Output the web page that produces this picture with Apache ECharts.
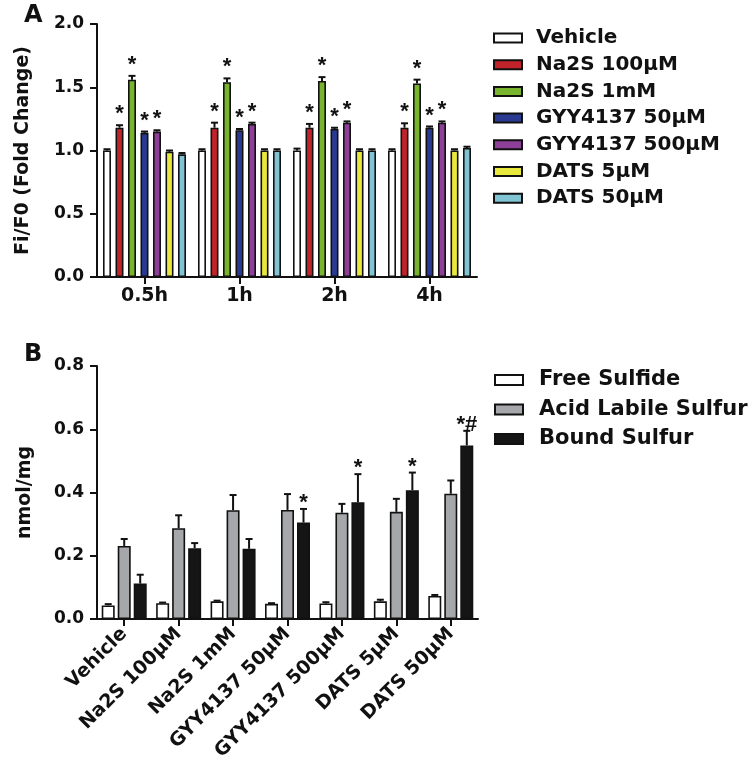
<!DOCTYPE html>
<html>
<head>
<meta charset="utf-8">
<script src="https://cdn.jsdelivr.net/npm/echarts@6/dist/echarts.min.js"></script>
<style>
html,body{margin:0;padding:0;background:#fff;}
#chart{width:750px;height:779px;}
</style>
</head>
<body>
<div id="chart"></div>
<script>
// ---------- Panel A data ----------
const categoriesA = ['0.5h', '1h', '2h', '4h'];
const namesA = ['Vehicle', 'Na2S 100µM', 'Na2S 1mM', 'GYY4137 50µM', 'GYY4137 500µM', 'DATS 5µM', 'DATS 50µM'];
const vehicleA   = [1.00, 1.00, 1.00, 1.00];
const na2s100A   = [1.18, 1.18, 1.18, 1.18];
const na2s1mA    = [1.56, 1.54, 1.55, 1.53];
const gyy50A     = [1.14, 1.16, 1.17, 1.18];
const gyy500A    = [1.15, 1.21, 1.22, 1.22];
const dats5A     = [0.99, 1.00, 1.00, 1.00];
const dats50A    = [0.97, 1.00, 1.00, 1.02];
const vehicleErrA = [0.01, 0.01, 0.015, 0.01];
const na2s100ErrA = [0.02, 0.04, 0.03, 0.035];
const na2s1mErrA  = [0.03, 0.03, 0.03, 0.03];
const gyy50ErrA   = [0.01, 0.01, 0.01, 0.01];
const gyy500ErrA  = [0.01, 0.01, 0.01, 0.01];
const dats5ErrA   = [0.01, 0.01, 0.01, 0.01];
const dats50ErrA  = [0.01, 0.01, 0.01, 0.01];
const vehicleStarA = ['', '', '', ''];
const na2s100StarA = ['*', '*', '*', '*'];
const na2s1mStarA  = ['*', '*', '*', '*'];
const gyy50StarA   = ['*', '*', '*', '*'];
const gyy500StarA  = ['*', '*', '*', '*'];
const dats5StarA   = ['', '', '', ''];
const dats50StarA  = ['', '', '', ''];
const yTicksA = [0, 0.5, 1.0, 1.5, 2.0];

// ---------- Panel B data ----------
const categoriesB = ['Vehicle', 'Na2S 100µM', 'Na2S 1mM', 'GYY4137 50µM', 'GYY4137 500µM', 'DATS 5µM', 'DATS 50µM'];
const namesB = ['Free Sulfide', 'Acid Labile Sulfur', 'Bound Sulfur'];
const freeB  = [0.043, 0.050, 0.056, 0.048, 0.049, 0.056, 0.073];
const acidB  = [0.231, 0.287, 0.344, 0.345, 0.336, 0.339, 0.396];
const boundB = [0.112, 0.224, 0.222, 0.305, 0.369, 0.407, 0.549];
const freeErrB  = [0.004, 0.002, 0.002, 0.002, 0.004, 0.005, 0.003];
const acidErrB  = [0.022, 0.041, 0.048, 0.050, 0.028, 0.041, 0.042];
const boundErrB = [0.028, 0.016, 0.031, 0.043, 0.089, 0.056, 0.046];
const freeStarB  = ['', '', '', '', '', '', ''];
const acidStarB  = ['', '', '', '', '', '', ''];
const boundStarB = ['', '', '', '*', '*', '*', '*#'];
const yTicksB = [0, 0.2, 0.4, 0.6, 0.8];

// ---------- styles ----------
const FONT = 'DejaVu Sans';
const colorsA = ['#ffffff', '#c1232b', '#78b42e', '#2a3a92', '#8e3f97', '#e9e83c', '#80c3d3'];
const colorsB = ['#ffffff', '#a6a7ab', '#151515'];
const valsA = [vehicleA, na2s100A, na2s1mA, gyy50A, gyy500A, dats5A, dats50A];
const errsA = [vehicleErrA, na2s100ErrA, na2s1mErrA, gyy50ErrA, gyy500ErrA, dats5ErrA, dats50ErrA];
const starsA = [vehicleStarA, na2s100StarA, na2s1mStarA, gyy50StarA, gyy500StarA, dats5StarA, dats50StarA];
const valsB = [freeB, acidB, boundB];
const errsB = [freeErrB, acidErrB, boundErrB];
const starsB = [freeStarB, acidStarB, boundStarB];

const BW_A = 8, GAP_A = 4.5;
const BW_B = 13, GAP_B = 3;

function barSeries(name, vals, color, axis, bw, gap) {
  return {
    type: 'bar', name: name, data: vals,
    xAxisIndex: axis, yAxisIndex: axis,
    barWidth: bw, barGap: (gap / bw * 100) + '%',
    itemStyle: { color: color, borderColor: '#111', borderWidth: 1.6 },
    z: 3
  };
}
function errSeries(name, vals, errs, stars, idx, n, pitch, capHalf, axis, starGap) {
  return {
    type: 'custom', name: name + ' err',
    xAxisIndex: axis, yAxisIndex: axis,
    data: vals.map((v, i) => [i, v, errs[i]]),
    encode: { x: 0, y: 1 },
    z: 2, clip: false, silent: true,
    renderItem: function (params, api) {
      const c = api.value(0), v = api.value(1), e = api.value(2);
      const base = api.coord([c, v]);
      const top = api.coord([c, v + e]);
      const x = base[0] + (idx - (n - 1) / 2) * pitch;
      const children = [
        { type: 'line', shape: { x1: x, y1: base[1], x2: x, y2: top[1] }, style: { stroke: '#111', lineWidth: 2 } },
        { type: 'line', shape: { x1: x - capHalf, y1: top[1], x2: x + capHalf, y2: top[1] }, style: { stroke: '#111', lineWidth: 2 } }
      ];
      const s = stars[params.dataIndex];
      if (s) {
        children.push({
          type: 'text', x: x, y: top[1] - starGap,
          style: { text: s, fill: '#111', font: 'bold 22px "Liberation Sans"', align: 'center', verticalAlign: 'middle' }
        });
      }
      return { type: 'group', children: children };
    }
  };
}

const series = [];
namesA.forEach((nm, i) => series.push(barSeries(nm, valsA[i], colorsA[i], 0, BW_A, GAP_A)));
namesB.forEach((nm, i) => series.push(barSeries(nm, valsB[i], colorsB[i], 1, BW_B, GAP_B)));
namesA.forEach((nm, i) => series.push(errSeries(nm, valsA[i], errsA[i], starsA[i], i, namesA.length, BW_A + GAP_A, 3.5, 0, 11)));
namesB.forEach((nm, i) => series.push(errSeries(nm, valsB[i], errsB[i], starsB[i], i, namesB.length, BW_B + GAP_B, 3.5, 1, 6)));

const axisLineStyle = { show: true, lineStyle: { color: '#111', width: 2 } };
const axisTickStyle = { show: true, length: 7, lineStyle: { color: '#111', width: 2 } };

function yAxisDef(idx, ticks, name, gap) {
  return {
    type: 'value', gridIndex: idx,
    min: ticks[0], max: ticks[ticks.length - 1], interval: ticks[1] - ticks[0],
    axisLine: axisLineStyle, axisTick: axisTickStyle,
    splitLine: { show: false },
    axisLabel: { color: '#111', fontFamily: FONT, fontWeight: 'bold', fontSize: 17, margin: 13,
      formatter: v => v.toFixed(1) },
    name: name, nameLocation: 'middle', nameGap: gap,
    nameTextStyle: { color: '#111', fontFamily: FONT, fontWeight: 'bold', fontSize: 19 }
  };
}

const option = {
  backgroundColor: '#fff',
  animation: false,
  textStyle: { fontFamily: FONT },
  grid: [
    { left: 97, top: 24, width: 380, height: 253, containLabel: false },
    { left: 97, top: 366, width: 381, height: 253, containLabel: false }
  ],
  xAxis: [
    { type: 'category', gridIndex: 0, data: categoriesA,
      axisLine: axisLineStyle, axisTick: Object.assign({ alignWithLabel: true }, axisTickStyle),
      axisLabel: { color: '#111', fontFamily: FONT, fontWeight: 'bold', fontSize: 19, margin: 10 } },
    { type: 'category', gridIndex: 1, data: categoriesB,
      axisLine: axisLineStyle, axisTick: Object.assign({ alignWithLabel: true }, axisTickStyle),
      axisLabel: { color: '#111', fontFamily: FONT, fontWeight: 'bold', fontSize: 19, margin: 12, rotate: 45, interval: 0 } }
  ],
  yAxis: [
    yAxisDef(0, yTicksA, 'Fi/F0 (Fold Change)', 64),
    yAxisDef(1, yTicksB, 'nmol/mg', 62)
  ],
  legend: [
    { data: namesA, orient: 'vertical', left: 493, top: 28, padding: 0, itemWidth: 28, itemHeight: 9, itemGap: 6.7,
      icon: 'rect',
      textStyle: { color: '#111', fontFamily: FONT, fontWeight: 'bold', fontSize: 20, lineHeight: 20, padding: [0, 0, 0, 9] } },
    { data: namesB, orient: 'vertical', left: 494, top: 369.5, padding: 0, itemWidth: 28, itemHeight: 10, itemGap: 8.5,
      icon: 'rect',
      textStyle: { color: '#111', fontFamily: FONT, fontWeight: 'bold', fontSize: 21, lineHeight: 21, padding: [0, 0, 0, 11] } }
  ],
  graphic: [
    { type: 'text', left: 24, top: 4, style: { text: 'A', fill: '#111', font: 'bold 24px "DejaVu Sans"' } },
    { type: 'text', left: 24, top: 343, style: { text: 'B', fill: '#111', font: 'bold 24px "DejaVu Sans"' } }
  ],
  series: series
};

const chart = echarts.init(document.getElementById('chart'), null, { renderer: 'canvas' });
chart.setOption(option);
</script>
</body>
</html>
